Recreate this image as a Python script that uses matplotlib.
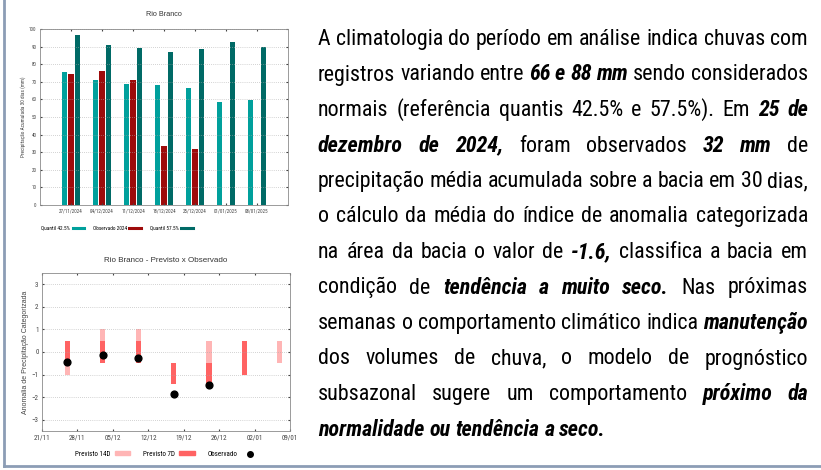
import numpy as np
import pandas as pd
import matplotlib
matplotlib.use("Agg")
import matplotlib.pyplot as plt
import matplotlib.dates as mdates
from matplotlib.lines import Line2D
from matplotlib.patches import Patch

# --- top chart: 30-day accumulated precipitation ---
dates_bar = ["27/11/2024", "04/12/2024", "11/12/2024", "18/12/2024",
             "25/12/2024", "01/01/2025", "08/01/2025"]
quantil_425 = [75.8, 71.3, 68.7, 68.0, 66.6, 58.4, 59.9]
observado_2024 = [74.3, 76.0, 70.9, 33.4, 32.0, np.nan, np.nan]
quantil_575 = [96.5, 91.0, 89.4, 87.2, 88.6, 92.6, 89.9]

# --- bottom chart: forecast vs observed anomaly ---
fc_dates = ["2024-11-26", "2024-12-03", "2024-12-10", "2024-12-17",
            "2024-12-24", "2024-12-31", "2025-01-07"]
prev14_low = [-1.0, -0.5, -0.5, -1.4, -1.5, -1.0, -0.5]
prev14_high = [0.5, 1.0, 1.0, -0.5, 0.5, 0.5, 0.5]
prev7_low = [-0.5, -0.5, -0.5, -1.4, -1.5, -1.0, np.nan]
prev7_high = [0.5, 0.5, 0.5, -0.5, -0.5, 0.5, np.nan]
observado = [-0.45, -0.12, -0.25, -1.87, -1.48, np.nan, np.nan]

# --- text on the right ---
B = True
text_lines = [
    [("A climatologia do período em análise indica chuvas com", False)],
    [("registros variando entre", False), ("66 e 88 mm", B), ("sendo considerados", False)],
    [("normais (referência quantis 42.5% e 57.5%). Em", False), ("25 de", B)],
    [("dezembro de 2024,", B), ("foram observados", False), ("32 mm", B), ("de", False)],
    [("precipitação média acumulada sobre a bacia em 30 dias,", False)],
    [("o cálculo da média do índice de anomalia categorizada", False)],
    [("na área da bacia o valor de", False), ("-1.6,", B), ("classifica a bacia em", False)],
    [("condição de", False), ("tendência a muito seco.", B), ("Nas próximas", False)],
    [("semanas o comportamento climático indica", False), ("manutenção", B)],
    [("dos volumes de chuva, o modelo de prognóstico", False)],
    [("subsazonal sugere um comportamento", False), ("próximo da", B)],
    [("normalidade ou tendência a seco.", B)],
]

W, H = 821, 470
fig = plt.figure(figsize=(W / 100, H / 100), dpi=100)
fig.patch.set_facecolor("white")
NARROW = ["Roboto Condensed", "DejaVu Sans"]
SANS = ["Liberation Sans", "DejaVu Sans"]
GRAY = "#8a8a8a"
TXT = "#444444"


def fx(px):
    return px / W


def fy(py):
    return 1 - py / H


# slide border
fig.add_artist(Line2D([fx(4), fx(4)], [fy(0), fy(466)], color="#8c9db5", lw=2))
fig.add_artist(Line2D([fx(4), 1], [fy(466), fy(466)], color="#8c9db5", lw=2))

# ---------------- top chart ----------------
ax1 = fig.add_axes([fx(40), fy(205), fx(248), (205 - 29) / H])
x = np.arange(len(dates_bar))
w = 0.17
c1, c2, c3 = "#00a09c", "#9e0b0b", "#006a66"
ax1.bar(x - 0.2, quantil_425, w, color=c1)
ax1.bar(x, observado_2024, w, color=c2)
ax1.bar(x + 0.2, quantil_575, w, color=c3)
ax1.set_xlim(-1, 7)
ax1.set_ylim(0, 100)
ax1.set_yticks(range(0, 101, 10))
ax1.set_xticks(x)
ax1.set_xticklabels(dates_bar, family=NARROW)
for lb in ax1.get_yticklabels():
    lb.set_family(NARROW)
ax1.tick_params(labelsize=3.6, length=1.5, direction="in", top=True, right=True,
                colors=TXT, pad=2.5)
ax1.grid(axis="y", linestyle=(0, (1, 2)), color="#aaaaaa", lw=0.5)
for s in ax1.spines.values():
    s.set_color(GRAY)
    s.set_linewidth(0.6)
ax1.set_ylabel("Precipitação Acumulada 30 dias (mm)", fontsize=3.8, color=TXT,
               family=NARROW, labelpad=2.5)
ax1.set_title("Rio Branco", fontsize=5.2, color="#333333", pad=9, family=SANS)
handles = [Line2D([], [], color=c, lw=2.2) for c in (c1, c2, c3)]
ax1.legend(handles, ["Quantil 42.5%", "Observado 2024", "Quantil 57.5%"],
           loc="upper center", bbox_to_anchor=(0.31, -0.09), ncol=3, frameon=False,
           markerfirst=False, handlelength=2.2, columnspacing=1.6, handletextpad=0.5,
           prop={"family": NARROW, "size": 3.8})

# ---------------- bottom chart ----------------
ax2 = fig.add_axes([fx(42), fy(431), fx(248), (431 - 273) / H])
d = pd.to_datetime(fc_dates)
lo14, hi14 = np.array(prev14_low), np.array(prev14_high)
lo7, hi7 = np.array(prev7_low), np.array(prev7_high)
ax2.bar(d, hi14 - lo14, bottom=lo14, width=1.0, color="#ffb5b5")
ax2.bar(d, hi7 - lo7, bottom=lo7, width=1.0, color="#ff6363")
ax2.scatter(d, observado, s=24, color="black", zorder=3)
ax2.set_xlim(pd.Timestamp("2024-11-21"), pd.Timestamp("2025-01-09"))
ax2.set_ylim(-3.5, 3.5)
ax2.set_yticks(range(-3, 4))
ax2.set_xticks(pd.date_range("2024-11-21", "2025-01-09", freq="7D"))
ax2.xaxis.set_major_formatter(mdates.DateFormatter("%d/%m"))
for lb in ax2.get_xticklabels() + ax2.get_yticklabels():
    lb.set_family(NARROW)
ax2.tick_params(labelsize=5, length=1.5, direction="in", top=True, right=True,
                colors=TXT, pad=2.5)
ax2.grid(axis="y", linestyle=(0, (1, 2)), color="#aaaaaa", lw=0.5)
for s in ax2.spines.values():
    s.set_color(GRAY)
    s.set_linewidth(0.6)
ax2.set_ylabel("Anomalia de Precipitação Categorizada", fontsize=5, color=TXT,
               family=SANS, labelpad=2)
ax2.set_title("Rio Branco - Previsto x Observado", fontsize=5.8, color="#333333",
              pad=8, family=SANS)
handles2 = [Patch(color="#ffb5b5"), Patch(color="#ff6363"),
            Line2D([], [], marker="o", ls="", color="black", markersize=4)]
ax2.legend(handles2, ["Previsto 14D", "Previsto 7D", "Observado"],
           loc="upper center", bbox_to_anchor=(0.5, -0.085), ncol=3, frameon=False,
           markerfirst=False, handlelength=2.2, handleheight=0.45, columnspacing=1.8,
           handletextpad=0.7, prop={"family": NARROW, "size": 5})

# ---------------- justified text ----------------
LEFT, RIGHT = 318, 808
BASE0, STEP = 45, 35.5
renderer = fig.canvas.get_renderer()


def measure(s, fs, bold=False):
    t = fig.text(0, 0, s, fontsize=fs, family=NARROW,
                 fontweight="bold" if bold else "normal",
                 fontstyle="italic" if bold else "normal")
    wpx = t.get_window_extent(renderer).width
    t.remove()
    return wpx


# first line is set with plain spacing in the reference: size the font to it
FS = 16 * (RIGHT - LEFT) / measure(text_lines[0][0][0], 16)
space_w = measure("a a", FS) - measure("aa", FS)

for i, line in enumerate(text_lines):
    words = [(wd, bold) for seg, bold in line for wd in seg.split()]
    arts = []
    for wd, bold in words:
        arts.append(fig.text(0, 0, wd, fontsize=FS, family=NARROW, va="baseline",
                             ha="left", color="black",
                             fontweight="bold" if bold else "normal",
                             fontstyle="italic" if bold else "normal"))
    widths = [a.get_window_extent(renderer).width for a in arts]
    if i < len(text_lines) - 1 and len(words) > 1:
        gap = (RIGHT - LEFT - sum(widths)) / (len(words) - 1)
    else:
        gap = space_w
    xpos = LEFT
    for a, wpx in zip(arts, widths):
        a.set_position((fx(xpos), fy(BASE0 + i * STEP)))
        xpos += wpx + gap

fig.savefig("out.png", dpi=100)
